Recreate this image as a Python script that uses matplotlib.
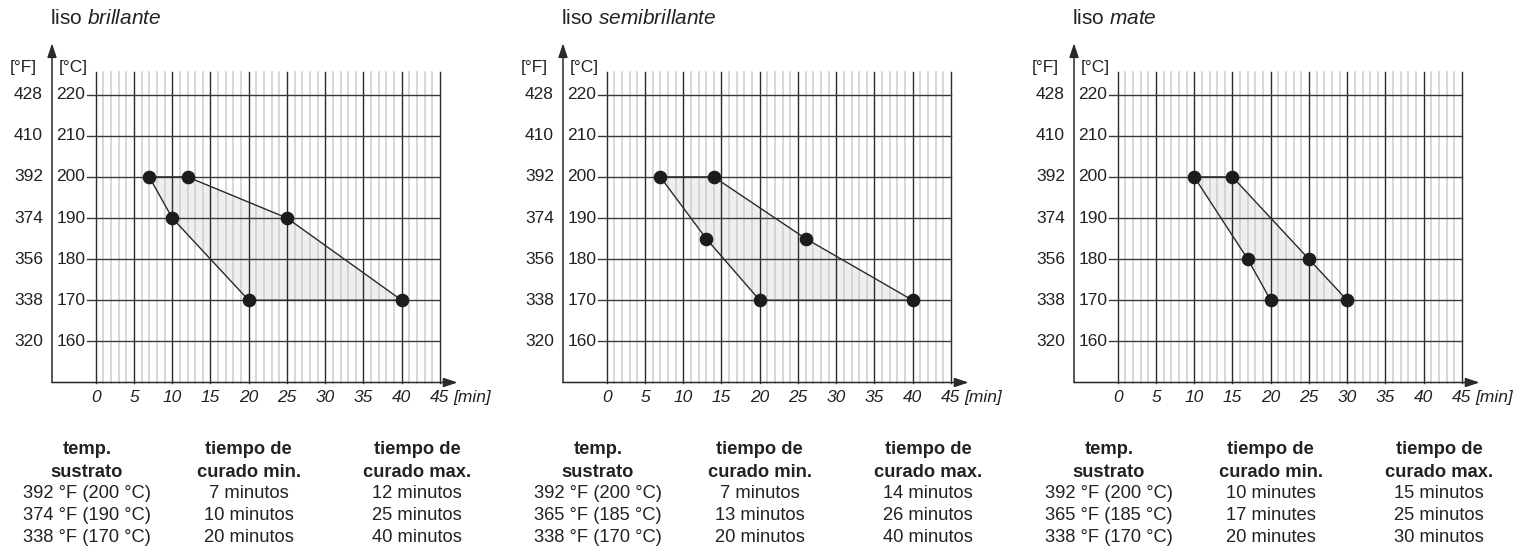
"""Curing windows for three gloss levels (liso brillante / semibrillante / mate)."""
import matplotlib
matplotlib.use("Agg")
import matplotlib.pyplot as plt

plt.rcParams["font.family"] = ["Liberation Sans", "DejaVu Sans"]
plt.rcParams["mathtext.fontset"] = "custom"
plt.rcParams["mathtext.rm"] = "Liberation Sans"
plt.rcParams["mathtext.it"] = "Liberation Sans:italic"

# --- data -------------------------------------------------------------------
finishes = ["brillante", "semibrillante", "mate"]

# (time [min], temp [°C]) of the min / max curing curves, as drawn
min_times = [[7, 10, 20], [7, 13, 20], [10, 17, 20]]
min_temps = [[200, 190, 170], [200, 185, 170], [200, 180, 170]]
max_times = [[12, 25, 40], [14, 26, 40], [15, 25, 30]]
max_temps = [[200, 190, 170], [200, 185, 170], [200, 180, 170]]

temps_c = [160, 170, 180, 190, 200, 210, 220]
temps_f = [320, 338, 356, 374, 392, 410, 428]
time_ticks = [0, 5, 10, 15, 20, 25, 30, 35, 40, 45]

table_header = [("temp.", "sustrato"), ("tiempo de", "curado min."), ("tiempo de", "curado max.")]
table_temp = [
    ["392 °F (200 °C)", "374 °F (190 °C)", "338 °F (170 °C)"],
    ["392 °F (200 °C)", "365 °F (185 °C)", "338 °F (170 °C)"],
    ["392 °F (200 °C)", "365 °F (185 °C)", "338 °F (170 °C)"],
]
table_min = [
    ["7 minutos", "10 minutos", "20 minutos"],
    ["7 minutos", "13 minutos", "20 minutos"],
    ["10 minutes", "17 minutes", "20 minutes"],
]
table_max = [
    ["12 minutos", "25 minutos", "40 minutos"],
    ["14 minutos", "26 minutos", "40 minutos"],
    ["15 minutos", "25 minutos", "30 minutos"],
]

# --- layout -----------------------------------------------------------------
W, H = 1530, 549
PX_MIN = 7.65      # px per minute
PX_DEG = 4.112     # px per °C
X0 = 95.7          # px of t=0 in first panel
Y150 = 382.5       # px (from top) of 150 °C
YTOP = 225.5
PANEL_DX = 511

fig = plt.figure(figsize=(W / 100, H / 100), dpi=100)

dark = "#2a2a2a"
minor_c = "#cdcdcd"
fs_tick = 12.5
fs_tab = 13.2
arrow = dict(arrowstyle="-|>,head_length=0.6,head_width=0.2", color=dark, lw=1.1,
             shrinkA=0, shrinkB=0, mutation_scale=14)

for i, name in enumerate(finishes):
    left = X0 + PANEL_DX * i
    height_px = (YTOP - 150) * PX_DEG
    ax = fig.add_axes([left / W, (H - Y150) / H, 45 * PX_MIN / W, height_px / H])
    ax.set_xlim(0, 45)
    ax.set_ylim(150, YTOP)
    ax.axis("off")

    # shaded window
    poly_x = min_times[i] + max_times[i][::-1]
    poly_y = min_temps[i] + max_temps[i][::-1]
    ax.fill(poly_x, poly_y, color="#efefef", zorder=1, lw=0)

    # grid
    for t in range(46):
        if t % 5:
            ax.plot([t, t], [150, YTOP], color=minor_c, lw=1.1, zorder=2, clip_on=False)
    for t in time_ticks:
        ax.plot([t, t], [150, YTOP], color=dark, lw=1.0, zorder=3, clip_on=False)
    for c in temps_c:
        ax.plot([-1.15, 45], [c, c], color="#3a3a3a", lw=1.0, zorder=3, clip_on=False)

    # curves
    ax.plot(poly_x + [poly_x[0]], poly_y + [poly_y[0]], color=dark, lw=1.0, zorder=4)
    ax.plot(min_times[i] + max_times[i], min_temps[i] + max_temps[i], "o",
            color="#1c1c1c", ms=8.8, zorder=5, clip_on=False)

    # axes with arrows
    yax = -5.71
    ax.annotate("", xy=(yax, 232.5), xytext=(yax, 150), arrowprops=arrow,
                annotation_clip=False)
    ax.annotate("", xy=(47.3, 150), xytext=(yax, 150), arrowprops=arrow,
                annotation_clip=False)

    # tick labels
    for c, f in zip(temps_c, temps_f):
        ax.text(-1.35, c, str(c), ha="right", va="center", fontsize=fs_tick, color="#222")
        ax.text(-6.9, c, str(f), ha="right", va="center", fontsize=fs_tick, color="#222")
    ax.text(-9.4, 226.6, "[°F]", ha="center", va="center", fontsize=fs_tick, color="#222")
    ax.text(-2.9, 226.6, "[°C]", ha="center", va="center", fontsize=fs_tick, color="#222")
    for t in time_ticks:
        ax.text(t, 146.3, str(t), ha="center", va="center", fontsize=fs_tick,
                style="italic", color="#222")
    ax.text(46.7, 146.3, "[min]", ha="left", va="center", fontsize=fs_tick,
            style="italic", color="#222")

    # title
    ax.text(-6.0, 238.4, "liso $\\mathit{" + name + "}$", ha="left", va="center",
            fontsize=15, color="#222")

    # table
    col_x = [-1.13, 20.0, 42.0]
    row_py = [449, 472, 494, 516, 537]
    row_y = [150 - (py - Y150) / PX_DEG for py in row_py]
    cols = [table_temp[i], table_min[i], table_max[i]]
    for cx, (h1, h2), vals in zip(col_x, table_header, cols):
        ax.text(cx, row_y[0], h1, ha="center", va="center", fontsize=fs_tab,
                weight="bold", color="#222")
        ax.text(cx, row_y[1], h2, ha="center", va="center", fontsize=fs_tab,
                weight="bold", color="#222")
        for ry, v in zip(row_y[2:], vals):
            ax.text(cx, ry, v, ha="center", va="center", fontsize=fs_tab, color="#222")

fig.savefig("out.png", dpi=100)
